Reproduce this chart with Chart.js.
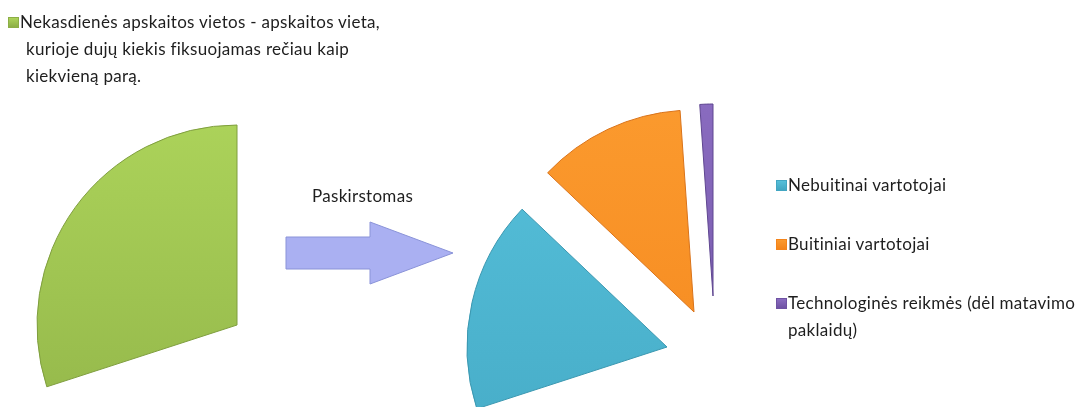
<!DOCTYPE html>
<html>
<head>
<meta charset="utf-8">
<script src="https://cdn.jsdelivr.net/npm/chart.js@4.4.1/dist/chart.umd.min.js"></script>
<style>
  html, body { margin:0; padding:0; background:#fff; }
  body { width:1088px; height:407px; overflow:hidden; position:relative; font-family: Lato, "Open Sans", sans-serif; }
  canvas { position:absolute; }
  .lg { position:absolute; font-size:17px; letter-spacing:0.3px; line-height:27px; color:#1e1e1e; white-space:nowrap; }
  .box { position:absolute; width:9px; height:9px; }
  svg { position:absolute; left:0; top:0; }
</style>
</head>
<body>
<canvas id="cGreen" width="460" height="460"></canvas>
<canvas id="cBlue" width="460" height="460"></canvas>
<canvas id="cOrange" width="460" height="460"></canvas>
<canvas id="cPurple" width="460" height="460"></canvas>

<svg width="1088" height="407">
  <polygon id="arrow" points="286,237 370,237 370,222 453,253 370,284 370,269 286,269" fill="#aab0f2" stroke="#8a93d8" stroke-width="1"/>
</svg>

<div id="legends"></div>

<script>
// ---- data (% of a full pie) ----
const sourceLabels = ['Nekasdienės apskaitos vietos - apskaitos vieta,\nkurioje dujų kiekis fiksuojamas rečiau kaip\nkiekvieną parą.'];
const sourceShares = [30];
const splitLabels = ['Nebuitinai vartotojai', 'Buitiniai vartotojai', 'Technologinės reikmės (dėl matavimo\npaklaidų)'];
const splitShares = [17.1, 11.8, 1.1];
const pieTotal = [100];
const arrowLabel = ['Paskirstomas'];

// ---- styles ----
const colGreen = ['#acd35a', '#8cae45'];
const colBlue = ['#55bfd9', '#42a6c2'];
const colOrange = ['#fb9a2e', '#f4841a'];
const colPurple = ['#8a6cc0', '#6f52a3'];

Chart.defaults.animation = false;
Chart.defaults.plugins.legend.display = false;
Chart.defaults.plugins.tooltip.enabled = false;
Chart.defaults.events = [];

function grad(canvas, cols, y0, y1) {
  const g = canvas.getContext('2d').createLinearGradient(0, y0, 0, y1);
  g.addColorStop(0, cols[0]);
  g.addColorStop(1, cols[1]);
  return g;
}

function makePie(id, left, top, values, visibleIndex, cols, edge, radius) {
  const canvas = document.getElementById(id);
  canvas.style.left = left + 'px';
  canvas.style.top = top + 'px';
  const fill = grad(canvas, cols, 20, 440);
  const bg = values.map((v, i) => i === visibleIndex ? fill : 'rgba(0,0,0,0)');
  const bc = values.map((v, i) => i === visibleIndex ? edge : 'rgba(0,0,0,0)');
  const bw = values.map((v, i) => i === visibleIndex ? 1 : 0);
  return new Chart(canvas, {
    type: 'pie',
    data: {
      labels: values.map((v, i) => 'p' + i),
      datasets: [{ data: values, backgroundColor: bg, borderColor: bc, borderWidth: bw, radius: radius }]
    },
    options: {
      responsive: false,
      maintainAspectRatio: false,
      layout: { padding: 0 },
      rotation: 0
    }
  });
}

// left pie: source slice only
const leftValues = [pieTotal[0] - sourceShares[0], sourceShares[0]];
makePie('cGreen', 237 - 230, 325 - 230, leftValues, 1, colGreen, '#7f9e3e', 200);

// right pie: exploded split slices
const rightRest = pieTotal[0] - splitShares.reduce((a, b) => a + b, 0);
const rightValues = [rightRest, splitShares[0], splitShares[1], splitShares[2]];
makePie('cBlue', 667 - 230, 347 - 230, rightValues, 1, colBlue, '#3a97b0', 200);
makePie('cOrange', 694 - 230, 312 - 230, rightValues, 2, colOrange, '#d9731a', 202);
makePie('cPurple', 713 - 230, 296 - 230, rightValues, 3, colPurple, '#5f4690', 192);

// legends / labels as real text
const host = document.getElementById('legends');
function esc(s) { return s.replace(/&/g, '&amp;').replace(/</g, '&lt;'); }
function addText(text, x, y, boxCol, indent) {
  const d = document.createElement('div');
  d.className = 'lg';
  d.style.left = x + 'px';
  d.style.top = y + 'px';
  d.innerHTML = text.split('\n').map((s, i) =>
    '<div style="padding-left:' + (i > 0 ? indent : 0) + 'px">' + esc(s) + '</div>').join('');
  host.appendChild(d);
  if (boxCol) {
    const b = document.createElement('div');
    b.className = 'box';
    b.style.left = (x - 12) + 'px';
    b.style.top = (y + 9) + 'px';
    b.style.background = 'linear-gradient(' + boxCol[0] + ',' + boxCol[1] + ')';
    b.style.border = '0.5px solid ' + boxCol[1];
    host.appendChild(b);
  }
}
addText(sourceLabels[0], 20, 8, colGreen, 6);
addText(splitLabels[0], 788, 171, colBlue, 0);
addText(splitLabels[1], 788, 230, colOrange, 0);
addText(splitLabels[2], 788, 289, colPurple, 0);
addText(arrowLabel[0], 312, 182, null, 0);
</script>
</body>
</html>
